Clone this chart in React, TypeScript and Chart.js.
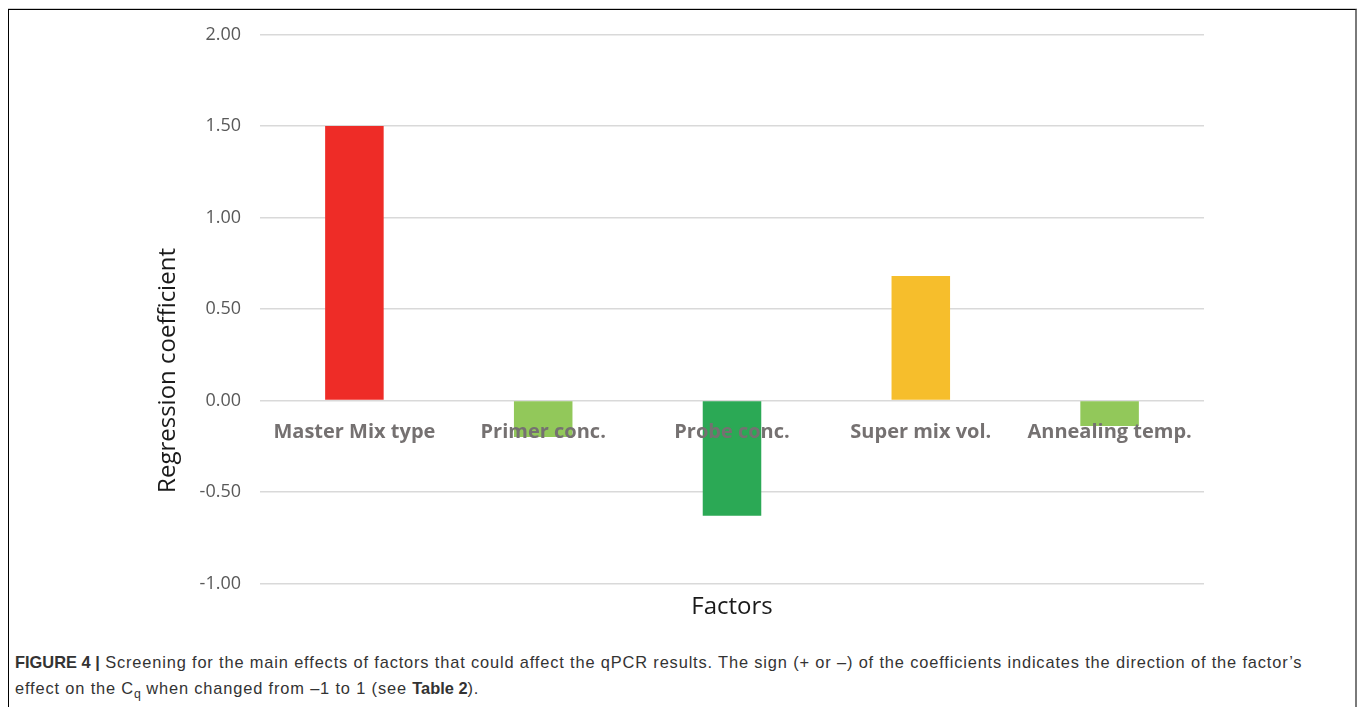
import React, { useEffect, useRef } from "react";
import { Chart, registerables } from "chart.js";

Chart.register(...registerables);

// Screening factors and their regression coefficients
const factors = ["Master Mix type", "Primer conc.", "Probe conc.", "Super mix vol.", "Annealing temp."];
const coefficients = [1.5, -0.2, -0.63, 0.68, -0.14];
const barColors = ["#EE2C27", "#92C85A", "#2BA955", "#F6BE2C", "#92C85A"];

const yMin = -1;
const yMax = 2;
const yStep = 0.5;
const yTitle = "Regression coefficient";
const xTitle = "Factors";

const CANVAS_W = 1346;
const CANVAS_H = 620;

// Vertical axis title, set a little below the middle of the plot area
const yTitlePlugin = {
  id: "yTitle",
  afterDraw(chart: any) {
    const { ctx, chartArea } = chart;
    const cx = 159;
    const cy = chartArea.top + 0.612 * (chartArea.bottom - chartArea.top);
    ctx.save();
    ctx.translate(cx, cy);
    ctx.rotate(-Math.PI / 2);
    ctx.font = "24px 'Open Sans', sans-serif";
    ctx.fillStyle = "#1a1a1a";
    ctx.textAlign = "center";
    ctx.textBaseline = "middle";
    ctx.fillText(yTitle, 0, 0);
    ctx.restore();
  },
};

export default function App() {
  const canvasRef = useRef<HTMLCanvasElement | null>(null);

  useEffect(() => {
    const canvas = canvasRef.current;
    if (!canvas) return;
    const chart = new Chart(canvas, {
      type: "bar",
      data: {
        labels: factors,
        datasets: [
          {
            data: coefficients,
            backgroundColor: barColors,
            borderWidth: 0,
            categoryPercentage: 1,
            barPercentage: 0.31,
          },
        ],
      },
      plugins: [yTitlePlugin],
      options: {
        animation: false,
        responsive: false,
        devicePixelRatio: 1,
        layout: { padding: { left: 0, right: 151, top: 24.5, bottom: 0 } },
        plugins: {
          legend: { display: false },
          tooltip: { enabled: false },
        },
        scales: {
          x: {
            axis: "x",
            type: "category",
            position: { y: 0 } as any,
            grid: { display: false, drawTicks: false },
            border: { display: false },
            ticks: {
              z: 1,
              autoSkip: false,
              maxRotation: 0,
              minRotation: 0,
              padding: 20,
              color: "#757171",
              font: { family: "'Open Sans', sans-serif", size: 20, weight: "bold" },
            },
          },
          x2: {
            axis: "x",
            type: "category",
            position: "bottom",
            grid: { display: false, drawTicks: false },
            border: { display: false },
            ticks: { display: false },
            title: {
              display: true,
              text: xTitle,
              color: "#1a1a1a",
              font: { family: "'Open Sans', sans-serif", size: 24 },
              padding: { top: 0, bottom: 8.6 },
            },
            afterFit: (s: any) => {
              s.height = 46.5;
            },
          },
          y: {
            type: "linear",
            min: yMin,
            max: yMax,
            grid: { color: "#D9D9D9", lineWidth: 1.5, drawTicks: false },
            border: { display: false },
            ticks: {
              stepSize: yStep,
              padding: 19,
              color: "#595959",
              font: { family: "'Open Sans', sans-serif", size: 18 },
              callback: (v: any) => Number(v).toFixed(2),
            },
            afterFit: (s: any) => {
              s.width = 251;
              s.paddingTop = 0;
              s.paddingBottom = 0;
            },
          },
        },
      },
    });
    return () => chart.destroy();
  }, []);

  const regular: React.CSSProperties = { letterSpacing: "0.85px" };

  return (
    <div
      style={{
        position: "absolute",
        left: 8,
        top: 9,
        width: 1349,
        height: 698,
        boxSizing: "border-box",
        borderTop: "1px solid #000",
        borderLeft: "1px solid #000",
        borderRight: "2px solid #7a7a7a",
        boxShadow: "0 -1px 0 #cfcfcf",
        background: "#fff",
        overflow: "hidden",
      }}
    >
      <canvas
        ref={canvasRef}
        width={CANVAS_W}
        height={CANVAS_H}
        style={{ position: "absolute", left: 0, top: 0, width: CANVAS_W, height: CANVAS_H, display: "block" }}
      />
      <div
        style={{
          position: "absolute",
          left: 6,
          top: 639,
          width: 1330,
          fontFamily: "'Liberation Sans', Arial, sans-serif",
          fontSize: 16.4,
          lineHeight: "26px",
          color: "#333",
          whiteSpace: "nowrap",
        }}
      >
        <div>
          <b>FIGURE 4 |</b>
          <span style={regular}> Screening for the main effects of factors that could affect the qPCR results. The sign (+ or –) of the coefficients indicates the direction of the factor’s</span>
        </div>
        <div>
          <span style={regular}>effect on the C</span>
          <sub style={{ fontSize: "0.75em", lineHeight: 0 }}>q</sub>
          <span style={regular}> when changed from –1 to 1 (see </span>
          <b>Table 2</b>
          <span style={regular}>).</span>
        </div>
      </div>
    </div>
  );
}
